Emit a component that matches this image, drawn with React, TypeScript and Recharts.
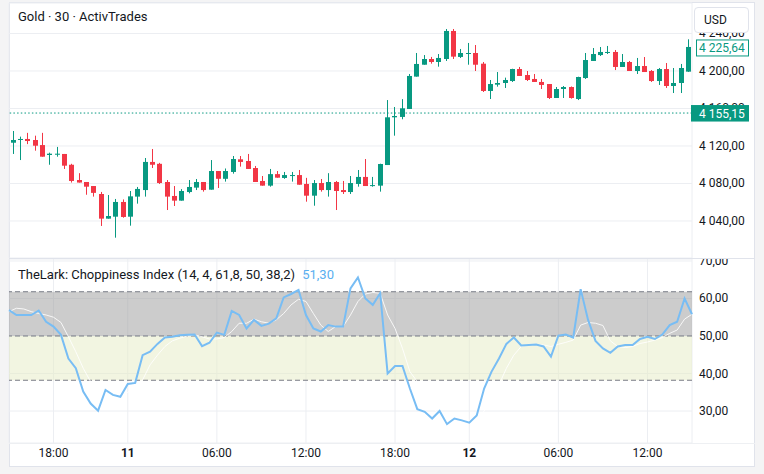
import React from "react";
import {
  ComposedChart,
  Bar,
  Line,
  XAxis,
  YAxis,
  CartesianGrid,
  ReferenceLine,
  ReferenceArea,
} from "recharts";

const GREEN = "#089981";
const RED = "#f23645";
const TEXT = "#131722";
const GRID = "#eceef2";
const FONT = "Roboto, 'Noto Sans', sans-serif";

// 30 min bars: day 10 15:00-22:30, day 11 00:00-22:30, day 12 00:00-15:00
const sessions: [string, number, number][] = [
  ["10", 15, 23],
  ["11", 0, 23],
  ["12", 0, 15.5],
];
const times: string[] = [];
sessions.forEach(([day, from, to]) => {
  for (let h = from; h < to; h += 0.5) {
    const hh = String(Math.floor(h)).padStart(2, "0");
    const mm = h % 1 ? "30" : "00";
    times.push(`${day} ${hh}:${mm}`);
  }
});

const opens = [
  4123.5, 4126.4, 4127.5, 4126.4, 4121, 4110.4, 4110.7, 4111.5, 4100, 4083.7,
  4081.6, 4077.3, 4068.8, 4042.5, 4044.6, 4060.3, 4044.6, 4066, 4073, 4103,
  4101, 4081.6, 4066.7, 4061.7, 4070.9, 4075.6, 4081.6, 4073.4, 4093.3, 4085,
  4092.3, 4105.8, 4104, 4096.5, 4082.7, 4077.7, 4090, 4085.9, 4088.3, 4089,
  4079.5, 4067, 4080.5, 4073, 4081.6, 4073, 4070.9, 4079.5, 4087, 4077.3,
  4077.7, 4099.7, 4150.6, 4151, 4159.5, 4194, 4206.7, 4212.8, 4209.6, 4212.8,
  4242.7, 4215, 4218.5, 4219.2, 4207.8, 4178.7, 4185.4, 4187.2, 4189.3, 4202.1,
  4195.7, 4191.5, 4188.3, 4186.1, 4171.2, 4180.8, 4182.9, 4170.1, 4192.5, 4210.7,
  4217, 4219.2, 4220.3, 4204.3, 4209.6, 4200, 4205.3, 4200, 4189.3, 4202.1,
  4184, 4187.2, 4199.3,
];
const highs = [
  4136, 4130, 4134, 4131, 4134, 4112.9, 4119, 4111.5, 4101, 4091,
  4081.6, 4077.3, 4071, 4067.7, 4063.5, 4063, 4072, 4076.3, 4107.2, 4116.8,
  4102, 4083.7, 4077.3, 4074, 4083.7, 4084.8, 4081.6, 4105, 4093.3, 4096,
  4109.3, 4109.3, 4111.5, 4098.7, 4088, 4095.5, 4093.3, 4092.3, 4092.3, 4094.4,
  4086, 4083.7, 4084.8, 4091, 4082.7, 4082.7, 4088, 4094.4, 4106.1, 4087,
  4101.1, 4169, 4161.6, 4170, 4196.8, 4219.2, 4217, 4215, 4218.1, 4244.8,
  4244.8, 4223.5, 4229.9, 4227.7, 4209.6, 4190.4, 4198.9, 4192.9, 4202.4, 4204.3,
  4200, 4196.8, 4191.5, 4186.1, 4182.9, 4184, 4183.5, 4193.9, 4219.2, 4224.5,
  4225.6, 4226.7, 4222.4, 4218.1, 4210.7, 4213.9, 4214.9, 4201, 4203.2, 4208.5,
  4203.2, 4207.5, 4233.8,
];
const lows = [
  4111.5, 4105, 4122, 4115, 4108.6, 4100, 4108.6, 4095.5, 4081, 4081,
  4068, 4066, 4034.7, 4042.5, 4022.2, 4043.5, 4035, 4058.5, 4066, 4096.5,
  4079.5, 4051.7, 4056, 4061.7, 4069.5, 4073, 4071.3, 4073.4, 4075.2, 4082,
  4090.5, 4098, 4095.5, 4081.6, 4077.7, 4076.6, 4086.2, 4085, 4082, 4078.7,
  4060.6, 4056.3, 4071.3, 4066, 4051.7, 4068.8, 4068.8, 4076.6, 4077.3, 4076.6,
  4071.3, 4099.7, 4131, 4148.5, 4159.5, 4194, 4206.7, 4207.8, 4204.6, 4210.7,
  4212.8, 4213.9, 4206.7, 4200, 4177.6, 4170.1, 4183.3, 4181.9, 4188.3, 4194.7,
  4189.3, 4188.3, 4180.8, 4170.1, 4171.2, 4171.2, 4170.5, 4169, 4191.5, 4210.7,
  4216, 4218.1, 4201, 4204.3, 4200, 4196.8, 4198.9, 4188.3, 4185.1, 4181.9,
  4176.5, 4176.5, 4199,
];
const closes = [
  4126.4, 4127.5, 4125.3, 4120.3, 4108.6, 4111.8, 4111.8, 4099, 4082.7, 4081,
  4076.6, 4070, 4042.5, 4045.3, 4060.3, 4044.3, 4066.3, 4074.2, 4103, 4100,
  4080.5, 4066, 4061.7, 4072, 4076.3, 4081.6, 4073, 4093.3, 4085, 4093.3,
  4106.1, 4103, 4095.5, 4081.6, 4077.7, 4090, 4086.2, 4089, 4089, 4078.7,
  4067, 4080.5, 4073, 4081.6, 4072, 4070.9, 4080.5, 4087, 4077.3, 4078.3,
  4100.8, 4150.6, 4152, 4160.2, 4194.7, 4207.5, 4212.8, 4209.6, 4213.9, 4242.7,
  4215.3, 4219.2, 4219.2, 4206.7, 4178.7, 4186.1, 4187.2, 4190.4, 4202.1, 4194.7,
  4190.4, 4188.3, 4185.1, 4171.2, 4180.8, 4182.9, 4171.2, 4193.6, 4211.7, 4218.1,
  4220.3, 4220.3, 4204.3, 4209.6, 4200, 4205.3, 4198.9, 4189.3, 4202.1, 4184,
  4187.2, 4203.2, 4225.64,
];

const chop = [
  56.9, 55.6, 55.6, 55.6, 56.8, 53.8, 52.5, 50.3, 44, 41.4,
  35.2, 32, 30.1, 35.6, 34.3, 33.8, 37.2, 37.5, 44.9, 45.8,
  47.9, 49.6, 49.8, 50.2, 50.3, 50.4, 47.3, 48.2, 50.9, 50.3,
  56.7, 55.6, 52, 54.3, 52.7, 53.3, 54.7, 60.3, 61.2, 62.3,
  55.6, 52, 51.2, 52.9, 52.5, 52.5, 62.7, 65.6, 60, 58.3,
  61.4, 40, 42, 42, 36, 30.5, 29.8, 28, 30, 26.5,
  28, 27.5, 26.9, 28.8, 36, 40.5, 44, 47.9, 49.6, 47.5,
  47.6, 47.7, 47.2, 44.5, 50.1, 50.4, 49.6, 62.5, 54.3, 48.7,
  46.7, 45.5, 47.2, 47.6, 47.6, 49.2, 49.8, 49.2, 50.4, 52.9,
  53.8, 60, 55.8,
];
const chopSignal = [
  56.5, 57.4, 57.2, 56.5, 56, 55.6, 55, 53.6, 49.8, 45.8,
  41.4, 37.8, 34, 32.5, 33, 33.5, 35, 36.5, 38.3, 42.3,
  44.9, 47.2, 48.7, 49.4, 50, 50.3, 49.8, 49.2, 49.2, 49.6,
  51.2, 53.4, 53.4, 54.5, 53.8, 53.4, 54.3, 56, 58.3, 59.8,
  59.2, 56, 52.9, 51.2, 52.5, 52.5, 55.6, 59.2, 61.2, 61.6,
  61.4, 55.6, 52, 46.7, 40.5, 37.8, 35, 31, 29, 28.5,
  28, 28, 27.5, 27.5, 30, 33, 37, 41.4, 44.9, 47.2,
  47.8, 47.8, 47.6, 47.2, 47.8, 48.3, 48.9, 52.9, 53.6, 53.4,
  52.8, 48.7, 47.2, 46.9, 47.2, 48, 48.4, 48.9, 49.6, 50.7,
  51.6, 54.5, 55.8,
];

const timeTicks = [
  { t: "10 18:00", label: "18:00", bold: false },
  { t: "11 00:00", label: "11", bold: true },
  { t: "11 06:00", label: "06:00", bold: false },
  { t: "11 12:00", label: "12:00", bold: false },
  { t: "11 18:00", label: "18:00", bold: false },
  { t: "12 00:00", label: "12", bold: true },
  { t: "12 06:00", label: "06:00", bold: false },
  { t: "12 12:00", label: "12:00", bold: false },
];
const priceTicks = [4040, 4080, 4120, 4160, 4200, 4240];
const chopTicks = [30, 40, 50, 60, 70];
const priceDomain = [4000.53, 4272.53];
const lastPrice = 4225.64;
const priceLine = 4155.15;

const data = times.map((t, i) => ({
  t,
  open: opens[i],
  high: highs[i],
  low: lows[i],
  close: closes[i],
  range: [lows[i], highs[i]],
  chop: chop[i],
  signal: chopSignal[i],
}));

const fmt = (v: number) => {
  const [a, b] = v.toFixed(2).split(".");
  return a.replace(/\B(?=(\d{3})+(?!\d))/g, " ") + "," + b;
};

const Candle = (props: any) => {
  const { x, y, width, height, payload } = props;
  if (!payload) return null;
  const { open, close, high, low } = payload;
  const top = Math.min(y, y + height);
  const h = Math.abs(height);
  const k = h / (high - low);
  const yOf = (v: number) => top + (high - v) * k;
  const color = close >= open ? GREEN : RED;
  const bTop = yOf(Math.max(open, close));
  const bBot = yOf(Math.min(open, close));
  const cx = Math.round(x + width / 2) + 0.5;
  return (
    <g>
      <line x1={cx} x2={cx} y1={top} y2={top + h} stroke={color} strokeWidth={1} />
      <rect x={cx - 2.5} y={bTop} width={5} height={Math.max(1, bBot - bTop)} fill={color} />
    </g>
  );
};

const PriceTick = (props: any) => (
  <text x={props.x} y={props.y} dy={4} fontSize={12} fill={TEXT} fontFamily={FONT}>
    {fmt(props.payload.value)}
  </text>
);

const TimeTick = (props: any) => {
  const tk = timeTicks.find((d) => d.t === props.payload.value);
  if (!tk) return null;
  return (
    <text
      x={props.x}
      y={props.y + 14}
      textAnchor="middle"
      fontSize={12}
      fontWeight={tk.bold ? 700 : 400}
      fill={TEXT}
      fontFamily={FONT}
    >
      {tk.label}
    </text>
  );
};

const FilledLabel = (props: any) => {
  const { viewBox } = props;
  const right = viewBox.x + viewBox.width;
  return (
    <g>
      <rect x={right - 1} y={viewBox.y - 8} width={58} height={16.5} fill={GREEN} />
      <text x={right + 7} y={viewBox.y + 4.5} fontSize={12} fill="#ffffff" fontFamily={FONT}>
        {fmt(priceLine)}
      </text>
    </g>
  );
};

const BoxLabel = (props: any) => {
  const { viewBox } = props;
  const right = viewBox.x + viewBox.width;
  return (
    <g>
      <rect x={right + 4.5} y={viewBox.y - 7} width={52} height={16} fill="#ffffff" stroke={GREEN} />
      <text x={right + 7} y={viewBox.y + 5} fontSize={12} fill={GREEN} fontFamily={FONT}>
        {fmt(lastPrice)}
      </text>
    </g>
  );
};

export default function App() {
  return (
    <div
      style={{
        position: "fixed",
        left: 0,
        top: 0,
        width: 764,
        height: 474,
        background: "#f4f4f5",
        overflow: "hidden",
        fontFamily: FONT,
      }}
    >
      <div
        style={{
          position: "absolute",
          left: 9,
          top: 2,
          width: 746,
          height: 465,
          boxSizing: "border-box",
          border: "1px solid #e0e3eb",
          background: "#ffffff",
        }}
      />
      <div style={{ position: "absolute", left: 9, top: 258, width: 746, height: 1, background: "#e0e3eb" }} />
      <div style={{ position: "absolute", left: 9, top: 443, width: 746, height: 1, background: "#eef0f3" }} />

      {/* price pane */}
      <div style={{ position: "absolute", left: 0, top: 0 }}>
        <ComposedChart width={764} height={258} data={data} margin={{ top: 3, right: 0, bottom: 0, left: 9 }}>
          <CartesianGrid stroke={GRID} />
          <XAxis
            dataKey="t"
            ticks={timeTicks.map((d) => d.t)}
            interval={0}
            tick={false}
            axisLine={false}
            tickLine={false}
            height={0}
          />
          <YAxis
            orientation="right"
            width={72}
            domain={priceDomain}
            allowDataOverflow
            ticks={priceTicks}
            interval={0}
            axisLine={false}
            tickLine={false}
            tickSize={0}
            tickMargin={7}
            tick={<PriceTick />}
          />
          <ReferenceLine y={priceLine} stroke={GREEN} strokeDasharray="1.5 2.2" />
          <Bar dataKey="range" barSize={5} shape={<Candle />} isAnimationActive={false} />
        </ComposedChart>
      </div>

      {/* price labels drawn above the axis ticks */}
      <div style={{ position: "absolute", left: 0, top: 0 }}>
        <ComposedChart width={764} height={258} data={data} margin={{ top: 3, right: 72, bottom: 0, left: 9 }}>
          <XAxis dataKey="t" hide />
          <YAxis hide domain={priceDomain} allowDataOverflow />
          <ReferenceLine y={priceLine} stroke="none" label={<FilledLabel />} />
          <ReferenceLine y={lastPrice} stroke="none" label={<BoxLabel />} />
        </ComposedChart>
      </div>

      {/* choppiness pane */}
      <div style={{ position: "absolute", left: 0, top: 259 }}>
        <ComposedChart width={764} height={208} data={data} margin={{ top: 0, right: 0, bottom: 0, left: 9 }}>
          <CartesianGrid stroke={GRID} />
          <ReferenceArea y1={50} y2={61.8} fill="#999999" fillOpacity={0.5} stroke="none" />
          <ReferenceArea y1={38.2} y2={50} fill="#e6ecc4" fillOpacity={0.5} stroke="none" />
          <ReferenceLine y={61.8} stroke="#787b86" strokeDasharray="5 3" />
          <ReferenceLine y={50} stroke="#787b86" strokeDasharray="5 3" />
          <ReferenceLine y={38.2} stroke="#787b86" strokeDasharray="5 3" />
          <XAxis
            dataKey="t"
            ticks={timeTicks.map((d) => d.t)}
            interval={0}
            axisLine={false}
            tickLine={false}
            tickSize={0}
            tickMargin={0}
            height={24}
            tick={<TimeTick />}
          />
          <YAxis
            orientation="right"
            width={72}
            domain={[21.47, 70.53]}
            allowDataOverflow
            ticks={chopTicks}
            interval={0}
            axisLine={false}
            tickLine={false}
            tickSize={0}
            tickMargin={7}
            tick={<PriceTick />}
          />
          <Line
            dataKey="signal"
            type="linear"
            stroke="#ffffff"
            strokeOpacity={0.85}
            strokeWidth={1}
            dot={false}
            isAnimationActive={false}
          />
          <Line
            dataKey="chop"
            type="linear"
            stroke="#78bdf4"
            strokeWidth={2}
            dot={false}
            isAnimationActive={false}
          />
        </ComposedChart>
      </div>

      <div style={{ position: "absolute", left: 18, top: 9, fontSize: 13, lineHeight: "16px", color: TEXT }}>
        Gold · 30 · ActivTrades
      </div>
      <div style={{ position: "absolute", left: 18, top: 267, fontSize: 13, lineHeight: "16px", color: TEXT }}>
        TheLark: Choppiness Index (14, 4, 61,8, 50, 38,2){" "}
        <span style={{ color: "#5aaff0", marginLeft: 4 }}>51,30</span>
      </div>
      <div
        style={{
          position: "absolute",
          left: 694,
          top: 7,
          width: 55,
          height: 26,
          boxSizing: "border-box",
          border: "1px solid #e0e3eb",
          borderRadius: 4,
          background: "#ffffff",
          fontSize: 12,
          lineHeight: "24px",
          paddingLeft: 9,
          color: TEXT,
        }}
      >
        USD
      </div>
    </div>
  );
}
